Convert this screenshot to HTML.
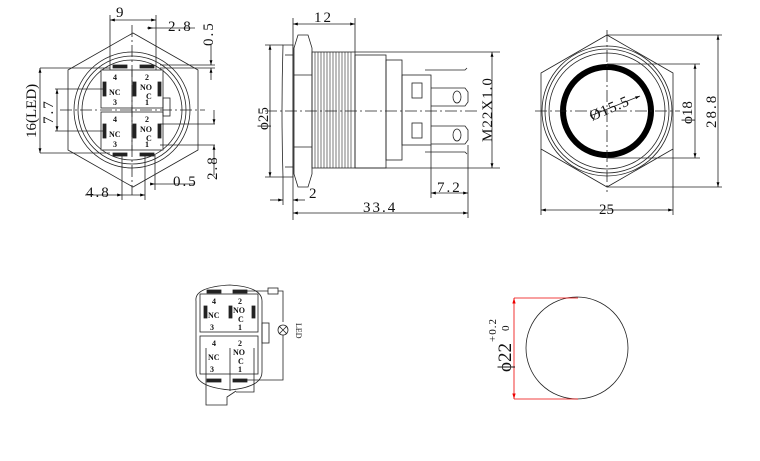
<!DOCTYPE html>
<html><head><style>html,body{margin:0;padding:0;background:#fff}svg{display:block}text{font-family:"Liberation Serif",serif;fill:#111}</style></head><body>
<svg width="760" height="461" viewBox="0 0 760 461" xmlns="http://www.w3.org/2000/svg">
<defs>
<marker id="a" viewBox="0 0 10 10" refX="10" refY="5" markerWidth="6" markerHeight="6" orient="auto-start-reverse"><path d="M0,2L10,5L0,8z" fill="#000"/></marker>
<marker id="r" viewBox="0 0 10 10" refX="10" refY="5" markerWidth="7" markerHeight="7" orient="auto-start-reverse"><path d="M0,2L10,5L0,8z" fill="#e00"/></marker>
</defs>
<g fill="none" stroke="#222" stroke-width="0.8">
<!-- LEFT VIEW -->
<polygon points="133,33 198,70 198,150 133,187 68,150 68,70"/>
<circle cx="132" cy="110" r="50"/><circle cx="132" cy="110" r="54"/><circle cx="132" cy="110" r="58"/>
<rect x="101" y="70" width="62" height="38" fill="#fff"/><rect x="101" y="112" width="62" height="38" fill="#fff"/>
<line x1="132" y1="70" x2="132" y2="150"/>
<rect x="163" y="98" width="7" height="18"/>
<line x1="60" y1="110" x2="205" y2="110" stroke-dasharray="12,3,2,3"/>
<line x1="132" y1="25" x2="132" y2="195" stroke-dasharray="12,3,2,3"/>
<rect x="113" y="65" width="14" height="3" fill="#222"/><rect x="140" y="65" width="14" height="3" fill="#222"/>
<rect x="113" y="153" width="14" height="3" fill="#222"/><rect x="140" y="153" width="14" height="3" fill="#222"/>
<rect x="103" y="82" width="3" height="14" fill="#222"/><rect x="133" y="82" width="3" height="14" fill="#222"/><rect x="158" y="82" width="3" height="14" fill="#222"/>
<rect x="103" y="124" width="3" height="14" fill="#222"/><rect x="133" y="124" width="3" height="14" fill="#222"/><rect x="158" y="124" width="3" height="14" fill="#222"/>
<line x1="110" y1="15" x2="110" y2="70"/><line x1="156" y1="15" x2="156" y2="70"/>
<line x1="110" y1="20" x2="156" y2="20" marker-start="url(#a)" marker-end="url(#a)"/>
<line x1="153" y1="28" x2="195" y2="28"/><line x1="147" y1="28" x2="153" y2="28" marker-end="url(#a)"/>
<line x1="40" y1="68" x2="110" y2="68"/><line x1="40" y1="153" x2="110" y2="153"/>
<line x1="40" y1="68" x2="40" y2="153" marker-start="url(#a)" marker-end="url(#a)"/>
<line x1="55" y1="89" x2="103" y2="89"/><line x1="55" y1="131" x2="103" y2="131"/>
<line x1="57" y1="89" x2="57" y2="131" marker-start="url(#a)" marker-end="url(#a)"/>
<line x1="160" y1="68" x2="215" y2="68"/><line x1="160" y1="65" x2="215" y2="65"/>
<line x1="211" y1="45" x2="211" y2="65" marker-end="url(#a)"/><line x1="211" y1="68" x2="211" y2="80" marker-start="url(#a)"/>
<line x1="160" y1="124" x2="215" y2="124"/><line x1="160" y1="145" x2="215" y2="145"/>
<line x1="214" y1="110" x2="214" y2="124" marker-end="url(#a)"/><line x1="214" y1="145" x2="214" y2="175" marker-start="url(#a)"/>
<line x1="122" y1="155" x2="122" y2="200"/><line x1="145" y1="155" x2="145" y2="200"/><line x1="155" y1="155" x2="155" y2="190"/>
<line x1="85" y1="195" x2="122" y2="195" marker-end="url(#a)"/><line x1="145" y1="195" x2="122" y2="195" marker-start="url(#a)"/>
<line x1="155" y1="184" x2="195" y2="184"/><line x1="150" y1="184" x2="155" y2="184" marker-end="url(#a)"/>
<!-- SIDE VIEW -->
<path d="M283,45 L293,45 L293,177 L283,177 Q281,111 283,45z"/>
<line x1="285" y1="55" x2="293" y2="55"/><line x1="285" y1="167" x2="293" y2="167"/>
<path d="M298,35 L308,35 L312,48 L312,174 L308,187 L298,187 L294,174 L294,48z"/>
<line x1="294" y1="75" x2="312" y2="75"/><line x1="294" y1="147" x2="312" y2="147"/>
<rect x="312" y="52" width="43" height="116"/>
<g stroke-width="0.6">
<line x1="315" y1="52" x2="315" y2="168"/><line x1="318" y1="52" x2="318" y2="168"/><line x1="321" y1="52" x2="321" y2="168"/><line x1="324" y1="52" x2="324" y2="168"/><line x1="327" y1="52" x2="327" y2="168"/><line x1="330" y1="52" x2="330" y2="168"/><line x1="333" y1="52" x2="333" y2="168"/><line x1="336" y1="52" x2="336" y2="168"/><line x1="339" y1="52" x2="339" y2="168"/><line x1="342" y1="52" x2="342" y2="168"/><line x1="345" y1="52" x2="345" y2="168"/><line x1="348" y1="52" x2="348" y2="168"/><line x1="351" y1="52" x2="351" y2="168"/>
</g>
<rect x="355" y="55" width="31" height="113"/>
<rect x="386" y="60" width="16" height="100"/>
<rect x="402" y="75" width="29" height="70"/>
<rect x="412" y="83" width="10" height="15"/><rect x="412" y="123" width="10" height="15"/>
<path d="M431,88 L465,88 L468,92 L468,102 L465,106 L431,106"/><path d="M431,126 L465,126 L468,130 L468,140 L465,144 L431,144"/>
<ellipse cx="457" cy="97" rx="4" ry="6"/><ellipse cx="457" cy="135" rx="4" ry="6"/>
<path d="M425,70 L465,70 L467,68"/><path d="M425,152 L465,152 L467,154"/>
<line x1="265" y1="111" x2="480" y2="111" stroke-dasharray="12,3,2,3"/>
<line x1="293" y1="18" x2="293" y2="220"/><line x1="355" y1="18" x2="355" y2="52"/>
<line x1="293" y1="24" x2="355" y2="24" marker-start="url(#a)" marker-end="url(#a)"/>
<line x1="265" y1="45" x2="283" y2="45"/><line x1="265" y1="177" x2="283" y2="177"/>
<line x1="270" y1="45" x2="270" y2="177" marker-start="url(#a)" marker-end="url(#a)"/>
<line x1="355" y1="52" x2="500" y2="52"/><line x1="355" y1="168" x2="500" y2="168"/>
<line x1="492" y1="52" x2="492" y2="168" marker-start="url(#a)" marker-end="url(#a)"/>
<line x1="431" y1="145" x2="431" y2="198"/><line x1="468" y1="145" x2="468" y2="218"/>
<line x1="431" y1="193" x2="468" y2="193" marker-start="url(#a)" marker-end="url(#a)"/>
<line x1="293" y1="213" x2="468" y2="213" marker-start="url(#a)" marker-end="url(#a)"/>
<line x1="283" y1="177" x2="283" y2="205"/>
<line x1="270" y1="200" x2="283" y2="200" marker-end="url(#a)"/><line x1="305" y1="200" x2="293" y2="200" marker-end="url(#a)"/>
<!-- RIGHT VIEW -->
<polygon points="607,35 673,73 673,149 607,187 541,149 541,73"/>
<circle cx="607" cy="111" r="58"/><circle cx="607" cy="111" r="62"/><circle cx="607" cy="111" r="65"/>
<circle cx="607" cy="111" r="44" stroke="#000" stroke-width="6"/>
<line x1="535" y1="111" x2="680" y2="111" stroke-dasharray="12,3,2,3"/>
<line x1="607" y1="30" x2="607" y2="192" stroke-dasharray="12,3,2,3"/>
<line x1="590" y1="116" x2="640" y2="96" marker-end="url(#a)"/>
<line x1="607" y1="64" x2="700" y2="64"/><line x1="607" y1="158" x2="700" y2="158"/>
<line x1="695" y1="64" x2="695" y2="158" marker-start="url(#a)" marker-end="url(#a)"/>
<line x1="607" y1="35" x2="722" y2="35"/><line x1="607" y1="187" x2="722" y2="187"/>
<line x1="718" y1="35" x2="718" y2="187" marker-start="url(#a)" marker-end="url(#a)"/>
<line x1="541" y1="149" x2="541" y2="215"/><line x1="673" y1="149" x2="673" y2="215"/>
<line x1="541" y1="210" x2="673" y2="210" marker-start="url(#a)" marker-end="url(#a)"/>
<!-- WIRING -->
<path d="M196,301 Q194,287 230,285 Q262,287 262,301 L262,372 Q262,387 230,390 Q196,387 196,372z"/>
<rect x="200" y="294" width="58" height="38" fill="#fff"/><rect x="200" y="336" width="58" height="38" fill="#fff"/>
<rect x="262" y="323" width="7" height="20"/>
<rect x="207" y="290" width="14" height="3" fill="#222"/><rect x="233" y="290" width="14" height="3" fill="#222"/>
<rect x="207" y="379" width="14" height="3" fill="#222"/><rect x="233" y="379" width="14" height="3" fill="#222"/>
<rect x="204" y="306" width="3" height="12" fill="#222"/><rect x="229" y="306" width="3" height="12" fill="#222"/><rect x="252" y="306" width="3" height="12" fill="#222"/>
<path d="M247,291 L268,291"/><rect x="268" y="288" width="10" height="6"/><path d="M278,291 L283,291 L283,322"/>
<circle cx="283" cy="330" r="5"/><path d="M279,326 L287,334 M287,326 L279,334"/>
<path d="M283,335 L283,380 L247,380"/>
<path d="M206,348 L206,405 L227,405 L227,397 L236,391 M230,391 L230,383 L230,348 M254,348 L254,392 L236,392"/>
<!-- CUTOUT -->
<circle cx="577" cy="348" r="51"/>
<g stroke="#e00"><line x1="514" y1="298" x2="578" y2="298"/><line x1="514" y1="399" x2="578" y2="399"/>
<line x1="514" y1="298" x2="514" y2="399" marker-start="url(#r)" marker-end="url(#r)"/></g>
</g>
<g font-size="15" letter-spacing="2">
<text x="116" y="17">9</text><text x="168" y="31">2.8</text>
<text transform="translate(213,46) rotate(-90)">0.5</text>
<text transform="translate(36,138) rotate(-90)" letter-spacing="0">16(LED)</text>
<text transform="translate(53,124) rotate(-90)">7.7</text>
<text transform="translate(217,180) rotate(-90)">2.8</text>
<text x="86" y="197">4.8</text><text x="173" y="186">0.5</text>
<text x="314" y="22">12</text>
<text transform="translate(268,130) rotate(-90)" letter-spacing="0">ϕ25</text>
<text transform="translate(492,142) rotate(-90)" letter-spacing="1">M22X1.0</text>
<text x="437" y="192">7.2</text><text x="309" y="198">2</text><text x="363" y="212">33.4</text>
<text transform="translate(592,121) rotate(-23)" letter-spacing="1">Ø15.5</text>
<text transform="translate(692,124) rotate(-90)" letter-spacing="0">ϕ18</text>
<text transform="translate(716,128) rotate(-90)">28.8</text>
<text x="599" y="214" letter-spacing="0">25</text>
<text font-size="19" letter-spacing="0" transform="translate(511,372) rotate(-90)">ϕ22</text>
<text font-size="11" letter-spacing="1" transform="translate(496,342) rotate(-90)">+0.2</text>
<text font-size="11" letter-spacing="0" transform="translate(509,331) rotate(-90)">0</text>
</g>
<g font-family="Liberation Sans" font-size="8" font-weight="bold" fill="#111">
<text x="212" y="304">4</text><text x="238" y="304">2</text><text x="208" y="318">NC</text><text x="233" y="313">NO</text><text x="238" y="322">C</text><text x="210" y="330">3</text><text x="238" y="330">1</text>
<text x="212" y="346">4</text><text x="238" y="346">2</text><text x="208" y="360">NC</text><text x="233" y="355">NO</text><text x="238" y="364">C</text><text x="210" y="372">3</text><text x="238" y="372">1</text>
<text x="113" y="80">4</text><text x="145" y="80">2</text><text x="109" y="95">NC</text><text x="140" y="90">NO</text><text x="146" y="99">C</text><text x="113" y="105">3</text><text x="145" y="105">1</text>
<text x="113" y="122">4</text><text x="145" y="122">2</text><text x="109" y="137">NC</text><text x="140" y="132">NO</text><text x="146" y="141">C</text><text x="113" y="147">3</text><text x="145" y="147">1</text>
<text font-family="Liberation Serif" font-weight="normal" font-size="8" transform="translate(296,323) rotate(90)">LED</text>
</g>
</svg>
</body></html>
